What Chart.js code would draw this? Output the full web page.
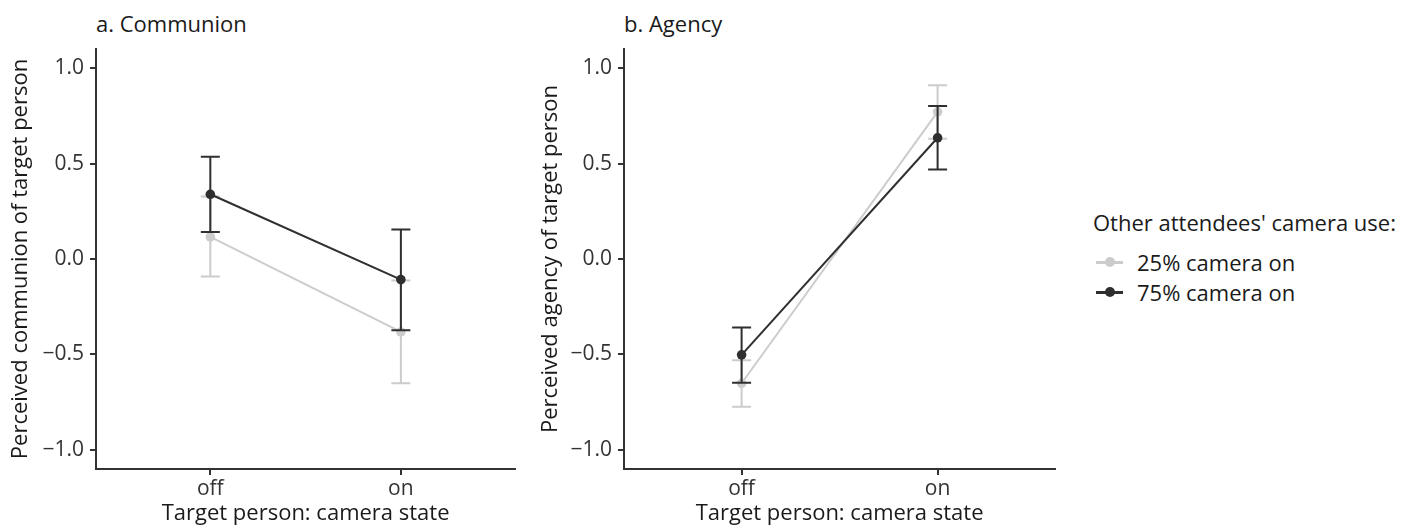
<!DOCTYPE html>
<html>
<head>
<meta charset="utf-8">
<script src="https://cdn.jsdelivr.net/npm/chart.js@4.4.0/dist/chart.umd.min.js"></script>
<style>
  body { margin: 0; background: #fff; width: 1416px; height: 527px; overflow: hidden; font-family: "Open Sans", sans-serif; }
  canvas { position: absolute; top: 0; }
  .title { position: absolute; top: 10px; font-size: 22px; line-height: 26px; color: #1a1a1a; }
  #legend { position: absolute; left: 1093px; top: 209px; font-size: 22px; line-height: 26px; color: #1a1a1a; }
  .item { position: relative; height: 30px; padding-left: 44px; line-height: 30px; }
  .key { position: absolute; left: 3px; top: 14px; width: 27px; height: 2.5px; }
  .key span { position: absolute; left: 8.5px; top: -4px; width: 10px; height: 10px; border-radius: 50%; }
</style>
</head>
<body>
<div class="title" style="left:96px">a. Communion</div>
<div class="title" style="left:624px">b. Agency</div>
<canvas id="chartA" width="520" height="527" style="left:0px"></canvas>
<canvas id="chartB" width="530" height="527" style="left:530px"></canvas>
<div id="legend">
  <div style="margin-bottom:12px">Other attendees' camera use:</div>
  <div class="item"><div class="key" style="background:#cccccc"><span style="background:#cccccc"></span></div>25% camera on</div>
  <div class="item"><div class="key" style="background:#2f2f2f"><span style="background:#2f2f2f"></span></div>75% camera on</div>
</div>
<script>
// x categories and y ticks
const cameraState = ['off', 'on'];
const yTicks = [-1, -0.5, 0, 0.5, 1];
const groups = ['25% camera on', '75% camera on'];

// a. Communion: means and 95% CI
const communion25 = [0.116, -0.382];
const communion25Lo = [-0.092, -0.651];
const communion25Hi = [0.328, -0.113];
const communion75 = [0.339, -0.108];
const communion75Lo = [0.142, -0.373];
const communion75Hi = [0.536, 0.155];

// b. Agency
const agency25 = [-0.651, 0.771];
const agency25Lo = [-0.774, 0.630];
const agency25Hi = [-0.531, 0.910];
const agency75 = [-0.502, 0.635];
const agency75Lo = [-0.648, 0.469];
const agency75Hi = [-0.359, 0.802];

const light = '#cccccc';
const dark = '#2f2f2f';
const axisCol = '#333333';
const font = '"Open Sans", sans-serif';

function fmt(v) {
    let s = Math.abs(v).toFixed(1);
    return v < 0 ? '\u2212' + s : s;
}

function series(label, vals, lo, hi, color, order) {
    return {
        label: label,
        data: vals.map((v, i) => ({ x: i + 1, y: v })),
        lo: lo,
        hi: hi,
        borderColor: color,
        backgroundColor: color,
        pointBackgroundColor: color,
        pointBorderWidth: 0,
        pointRadius: 4.8,
        borderWidth: 2,
        tension: 0,
        order: order
    };
}

// draws the CI whiskers through the chart scales
const errorBars = {
    id: 'errorBars',
    afterDatasetDraw(chart, args) {
        const ds = chart.data.datasets[args.index];
        const {ctx, scales} = chart;
        ctx.save();
        ctx.strokeStyle = ds.borderColor;
        ctx.lineWidth = 2;
        ds.data.forEach((p, i) => {
            const x = scales.x.getPixelForValue(p.x);
            const y1 = scales.y.getPixelForValue(ds.lo[i]);
            const y2 = scales.y.getPixelForValue(ds.hi[i]);
            ctx.beginPath();
            ctx.moveTo(x, y1); ctx.lineTo(x, y2);
            ctx.moveTo(x - 9.5, y1); ctx.lineTo(x + 9.5, y1);
            ctx.moveTo(x - 9.5, y2); ctx.lineTo(x + 9.5, y2);
            ctx.stroke();
        });
        ctx.restore();
    }
};

function makeChart(id, yTitle, datasets, yWidth) {
    return new Chart(document.getElementById(id), {
        type: 'line',
        data: { datasets: datasets },
        plugins: [errorBars],
        options: {
            responsive: false,
            animation: false,
            layout: { padding: { top: 49, right: 0, bottom: 0, left: 0 } },
            plugins: { legend: { display: false }, tooltip: { enabled: false } },
            scales: {
                x: {
                    type: 'linear',
                    min: 0.4,
                    max: 2.6,
                    afterBuildTicks: s => { s.ticks = cameraState.map((c, i) => ({ value: i + 1 })); },
                    afterFit: s => { s.height = 58; },
                    ticks: {
                        callback: v => cameraState[v - 1],
                        color: '#333333',
                        padding: 1,
                        font: { family: font, size: 21 },
                        maxRotation: 0
                    },
                    grid: { drawOnChartArea: false, drawTicks: true, tickLength: 6, color: axisCol, lineWidth: 2 },
                    border: { display: true, color: axisCol, width: 2 },
                    title: {
                        display: true,
                        text: 'Target person: camera state',
                        color: '#1a1a1a',
                        font: { family: font, size: 22 },
                        padding: { top: 0, bottom: 0 }
                    }
                },
                y: {
                    min: -1.1,
                    max: 1.1,
                    afterBuildTicks: s => { s.ticks = yTicks.map(v => ({ value: v })); },
                    afterFit: s => { s.width = yWidth; },
                    ticks: {
                        callback: v => fmt(v),
                        color: '#333333',
                        padding: 6,
                        font: { family: font, size: 21 }
                    },
                    grid: { drawOnChartArea: false, drawTicks: true, tickLength: 6, color: axisCol, lineWidth: 2 },
                    border: { display: true, color: axisCol, width: 2 },
                    title: {
                        display: true,
                        text: yTitle,
                        color: '#1a1a1a',
                        font: { family: font, size: 22 },
                        padding: { top: 8, bottom: 0 }
                    }
                }
            }
        }
    });
}

makeChart('chartA', 'Perceived communion of target person', [
    series(groups[0], communion25, communion25Lo, communion25Hi, light, 2),
    series(groups[1], communion75, communion75Lo, communion75Hi, dark, 1)
], 96);

makeChart('chartB', 'Perceived agency of target person', [
    series(groups[0], agency25, agency25Lo, agency25Hi, light, 2),
    series(groups[1], agency75, agency75Lo, agency75Hi, dark, 1)
], 94);
</script>
</body>
</html>
